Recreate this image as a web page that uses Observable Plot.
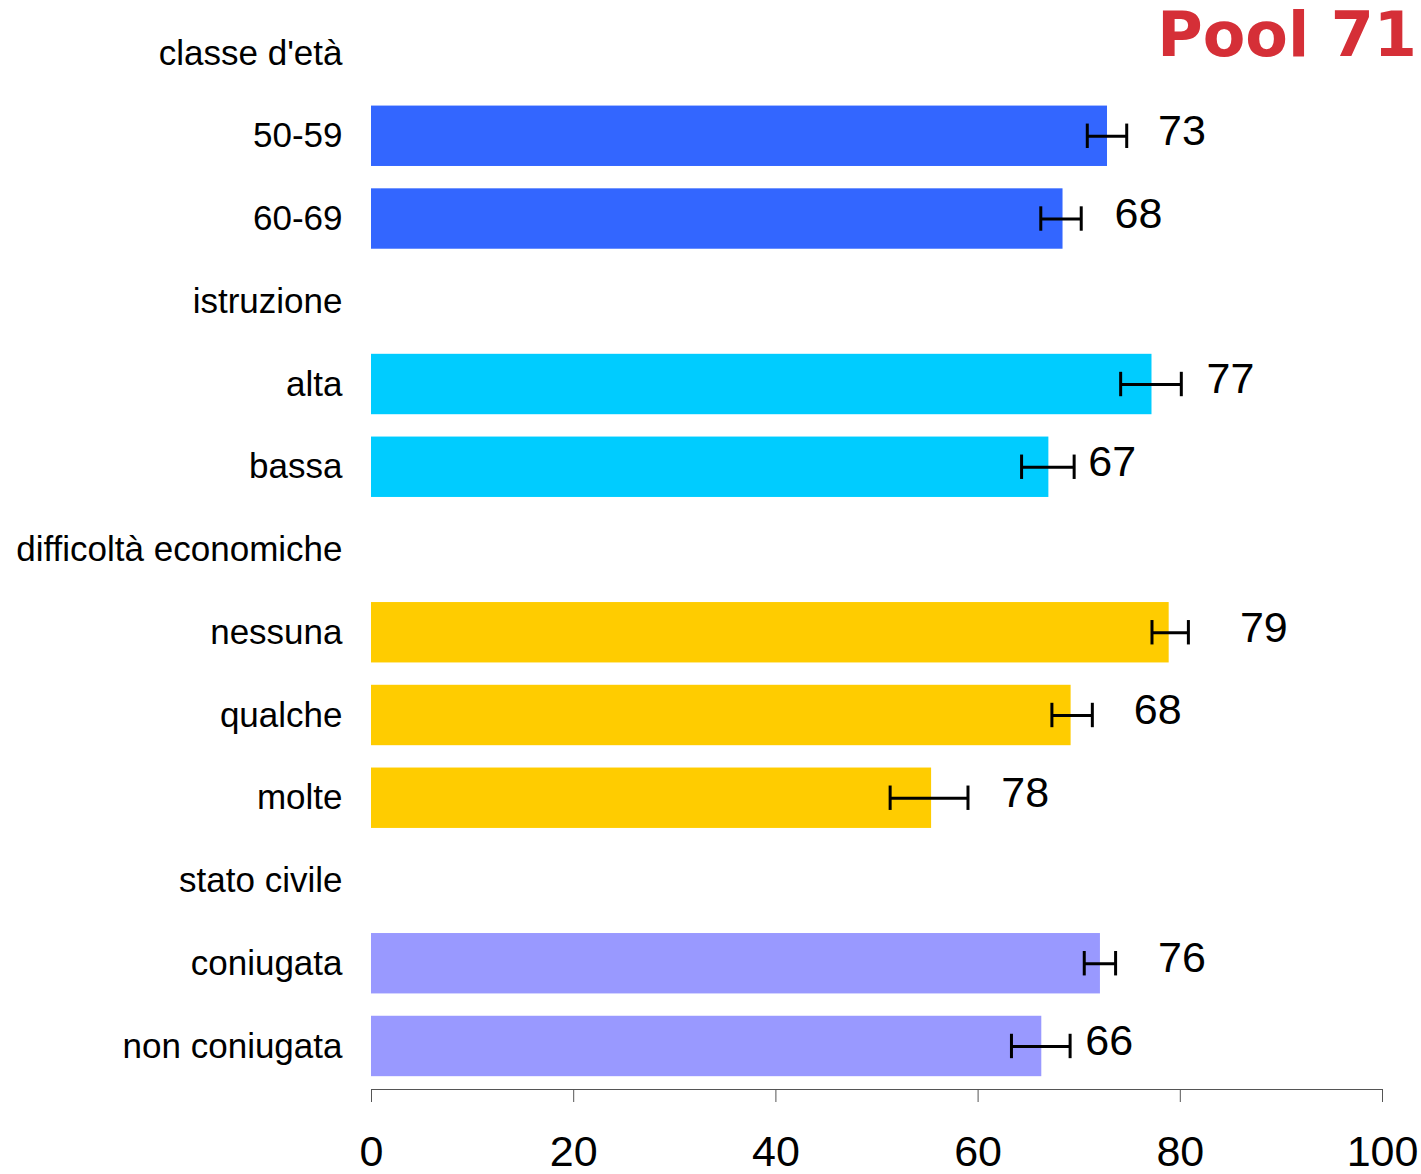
<!DOCTYPE html>
<html>
<head>
<meta charset="utf-8">
<script src="https://cdn.jsdelivr.net/npm/d3@7"></script>
<script src="https://cdn.jsdelivr.net/npm/@observablehq/plot@0.6"></script>
<style>
  html, body { margin: 0; padding: 0; background: #fff; }
  #wrap { position: relative; width: 1421px; height: 1174px; }
  #title { position: absolute; right: 4px; top: -2px; font-family: "DejaVu Sans", sans-serif; font-weight: bold; font-size: 62px; color: #d52f37; line-height: 1.2; }
  svg { font-family: "Liberation Sans", Arial, sans-serif; }
</style>
</head>
<body>
<div id="wrap"><div id="title">Pool 71</div></div>
<script>
// Row order (group headers + categories)
const rows = ["classe d'età", "50-59", "60-69", "istruzione", "alta", "bassa",
  "difficoltà economiche", "nessuna", "qualche", "molte", "stato civile", "coniugata", "non coniugata"];
const groups = ["classe d'età", "istruzione", "difficoltà economiche", "stato civile"];
const groupColors = ["#3366ff", "#00ccff", "#ffcc00", "#9999ff"];
const categories = ["50-59", "60-69", "alta", "bassa", "nessuna", "qualche", "molte", "coniugata", "non coniugata"];
const categoryGroup = ["classe d'età", "classe d'età", "istruzione", "istruzione",
  "difficoltà economiche", "difficoltà economiche", "difficoltà economiche", "stato civile", "stato civile"];
const values = [72.8, 68.4, 77.2, 67.0, 78.9, 69.2, 55.4, 72.1, 66.3];
const ciLow = [70.8, 66.2, 74.1, 64.3, 77.2, 67.3, 51.3, 70.5, 63.3];
const ciHigh = [74.7, 70.2, 80.1, 69.5, 80.8, 71.3, 59.0, 73.6, 69.1];
const valueLabels = ["73", "68", "77", "67", "79", "68", "78", "76", "66"];
const labelAt = [77.8, 73.5, 82.6, 70.9, 85.9, 75.4, 62.3, 77.8, 70.6];
const xTicks = [0, 20, 40, 60, 80, 100];

const data = categories.map((c, i) => ({
  cat: c, group: categoryGroup[i], value: values[i], lo: ciLow[i], hi: ciHigh[i],
  label: valueLabels[i], lx: labelAt[i]
}));

const chart = Plot.plot({
  width: 1421,
  height: 1174,
  marginLeft: 371,
  marginRight: 39,
  marginTop: 10,
  marginBottom: 85,
  style: { fontFamily: "Liberation Sans, Arial, sans-serif", color: "#000", background: "#fff" },
  x: { domain: [0, 100] },
  y: { domain: rows, paddingInner: 0.27, paddingOuter: 0.155, round: false },
  color: { domain: groups, range: groupColors },
  marks: [
    Plot.barX(data, { y: "cat", x: "value", fill: "group" }),
    Plot.ruleY(data, { y: "cat", x1: "lo", x2: "hi", stroke: "#000", strokeWidth: 3 }),
    Plot.tickX(data, { y: "cat", x: "lo", stroke: "#000", strokeWidth: 3, insetTop: 18, insetBottom: 18 }),
    Plot.tickX(data, { y: "cat", x: "hi", stroke: "#000", strokeWidth: 3, insetTop: 18, insetBottom: 18 }),
    Plot.text(data, { y: "cat", x: "lx", text: "label", textAnchor: "start", fontSize: 43, dy: -5, fill: "#000" }),
    Plot.frame({ anchor: "bottom", stroke: "#555" }),
    Plot.axisX({ ticks: xTicks, tickSize: 13, tickPadding: 33, fontSize: 43, stroke: "#555", label: null, tickFormat: d => String(d) }),
    Plot.axisY({ tickSize: 0, tickPadding: 29, fontSize: 35, label: null })
  ]
});
document.getElementById("wrap").prepend(chart);
</script>
</body>
</html>
